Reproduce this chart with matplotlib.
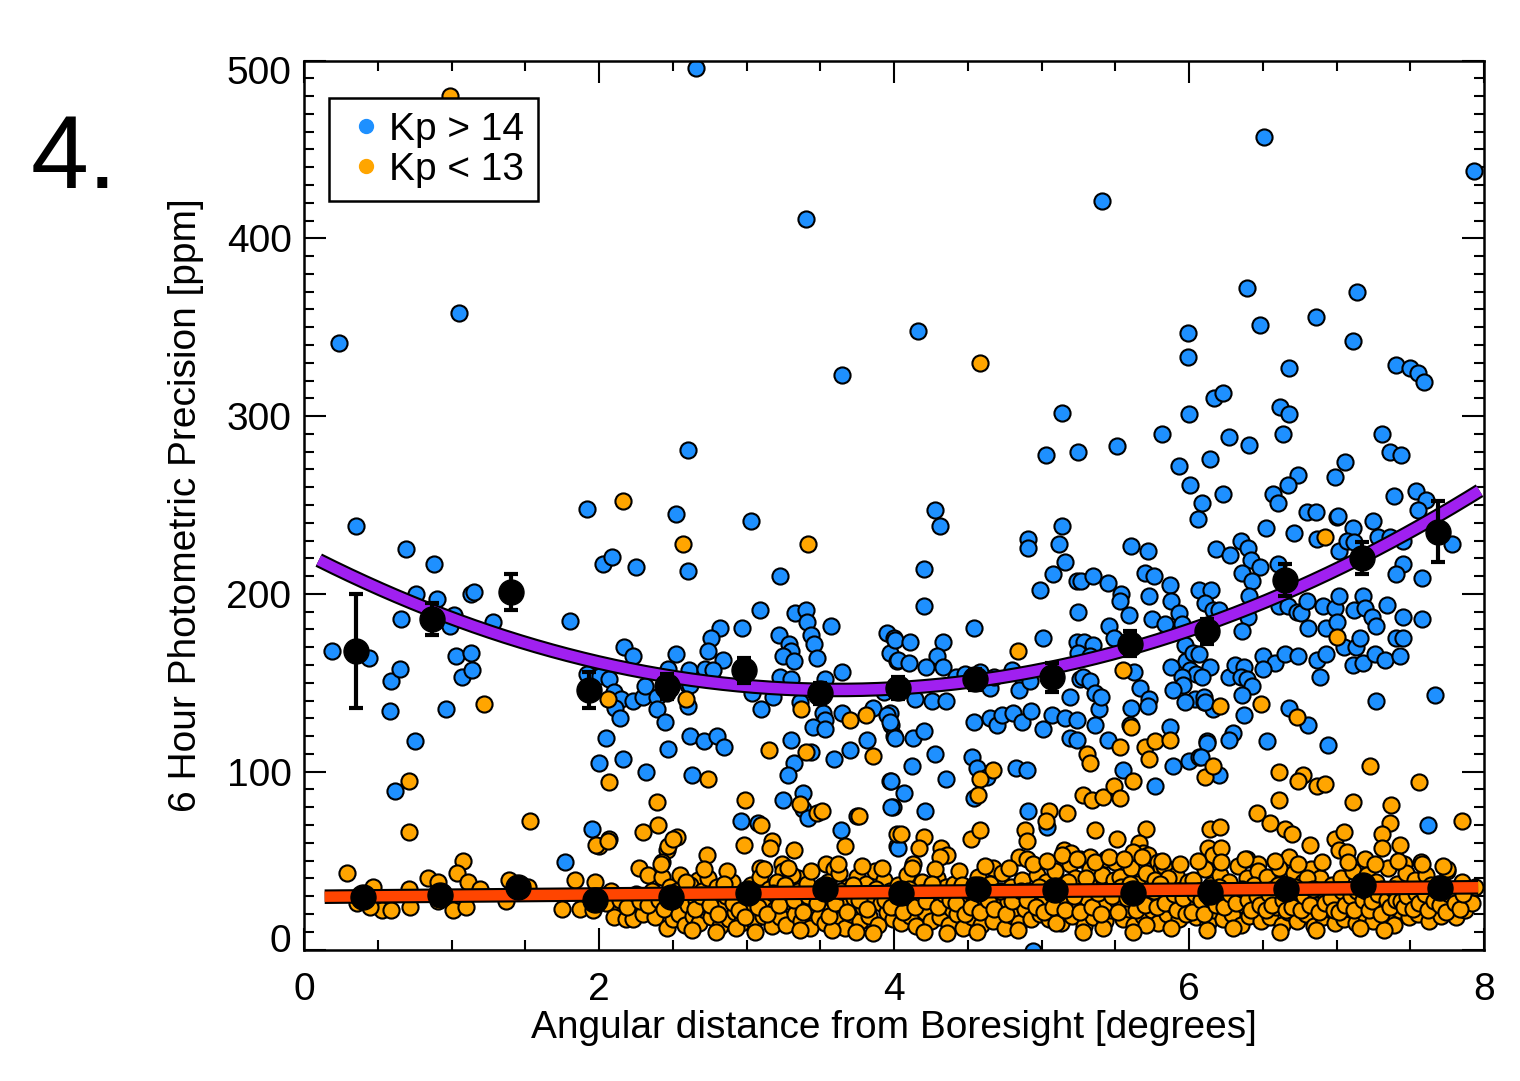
import numpy as np
import matplotlib
matplotlib.use("Agg")
import matplotlib.pyplot as plt
from matplotlib.lines import Line2D
from matplotlib.transforms import ScaledTranslation
import matplotlib.patheffects as pe

plt.rcParams['font.family'] = ['Liberation Sans', 'DejaVu Sans']

# ---------------- data ----------------
blue_points = [
    (0.19,168),(0.24,341),(0.35,238),(0.44,164),(0.58,134),(0.59,151),(0.62,89),(0.65,158),(0.66,186),
    (0.69,225),(0.75,117),(0.76,200),(0.88,217),(0.90,197),(0.96,135),(1.02,188),(0.99,182),(1.05,358),
    (1.03,165),(1.07,153),(1.13,167),(1.14,157),(1.13,200),(1.15,201),(1.28,184),(1.80,185),(1.92,248),
    (1.95,68),(1.77,49),
    (2.03,217),(2.09,221),(2.25,215),(2.52,245),(2.60,213),(3.03,241),(3.23,210),(3.09,191),(3.33,189),
    (3.40,191),(3.41,184),(3.57,182),(2.82,181),(2.97,181),(2.76,175),(2.74,168),(3.22,177),(3.29,172),
    (3.30,168),(3.44,177),(3.46,172),(2.17,170),(2.23,165),(2.52,166),(2.84,163),(3.25,165),(3.32,162),
    (3.48,164),(3.65,156),(3.95,178),(4.00,175),(3.97,167),(4.02,162),(2.47,158),(2.61,157),(2.72,158),
    (2.77,157),(1.92,155),(2.01,154),(2.07,152),(3.23,153),(3.30,152),(3.53,152),(2.10,145),(2.15,141),
    (2.23,140),(2.30,142),(2.31,148),(2.11,136),(2.14,130),(2.39,142),(2.39,135),(2.45,128),(2.46,144),
    (2.60,149),(2.62,149),(2.60,137),(3.04,144),(3.18,142),(3.10,135),(3.36,139),(3.52,133),(3.53,129),
    (3.45,125),(3.53,124),(3.65,133),(3.86,136),(3.97,133),(3.98,126),(4.00,120),(2.05,119),(2.47,113),
    (2.62,120),(2.71,117),(2.80,120),(2.85,114),(3.30,118),(2.00,105),(2.16,107),(2.32,100),(2.63,98),
    (3.32,105),(3.28,98),(3.44,111),(3.59,107),(3.70,112),(3.82,118),(3.97,95),(3.99,80),(3.38,88),
    (3.25,84),(3.38,79),(3.42,74),(2.96,72),(3.08,71),(3.64,67),(3.75,75),(4.02,58),
    (2.60,281),(2.66,496),(3.40,411),(3.65,323),(4.16,348),
    (5.14,302),(5.03,278),(5.25,280),(5.51,283),(6.00,301),(5.82,290),(5.99,347),(5.99,333),(5.93,272),
    (6.14,276),(6.01,261),(6.09,251),(6.06,242),(4.28,247),(4.31,238),(5.14,238),(4.91,231),(4.91,226),
    (5.12,228),(5.16,218),(5.08,211),(5.61,227),(5.72,224),(6.18,225),(4.20,214),(4.99,202),(4.20,193),
    (4.54,181),(5.24,207),(5.27,207),(5.35,210),(5.45,206),(5.54,200),(5.53,196),(5.59,188),(5.25,190),
    (5.70,212),(5.76,210),(5.73,199),(5.75,186),(5.87,205),(5.88,196),(5.93,189),(5.95,183),(5.84,183),
    (6.07,202),(6.15,202),(6.11,195),(6.16,191),(4.01,174),(4.11,173),(4.03,163),(4.10,161),(4.33,173),
    (4.29,165),(4.33,159),(4.22,159),(4.14,141),(4.26,140),(4.35,140),(5.01,175),(5.24,173),(5.29,173),
    (5.35,171),(5.25,167),(5.33,165),(5.46,182),(5.49,175),(5.63,156),(5.67,147),(5.73,141),(5.72,137),
    (5.26,152),(5.28,153),(5.33,151),(5.36,144),(5.39,135),(5.40,142),(5.19,142),(5.97,171),(5.98,162),
    (6.01,157),(6.03,167),(6.07,166),(6.05,155),(6.14,159),(5.88,159),(5.95,153),(5.96,149),(5.89,146),
    (6.04,141),(6.10,139),(5.97,139),(6.16,135),(3.93,145),(3.95,132),(3.97,128),(4.01,119),(4.13,119),
    (4.20,123),(4.28,110),(4.12,103),(4.35,96),(3.98,95),(4.07,88),(3.98,80),(4.21,78),(4.54,128),
    (4.65,130),(4.70,126),(4.73,132),(4.81,133),(4.87,128),(4.93,134),(5.01,124),(5.07,132),(5.16,130),
    (5.24,129),(5.19,119),(5.24,118),(5.36,126),(5.45,118),(5.60,126),(5.61,136),(5.87,125),(6.12,117),
    (4.53,108),(4.56,102),(4.63,97),(4.54,85),(4.83,102),(4.90,101),(4.91,78),(5.04,69),(5.55,101),
    (5.77,92),(5.89,103),(6.00,106),(6.07,108),(4.03,57),(4.80,157),(4.87,153),(4.85,146),(4.92,151),
    (4.65,147),(4.68,153),(4.58,156),(4.42,153),(4.48,155),(5.41,421),(4.94,-1),
    (6.39,372),(7.14,370),(6.48,351),(6.86,356),(7.11,342),(6.68,327),(7.40,329),(7.50,327),(7.55,324),
    (7.59,319),(6.17,310),(6.23,313),(6.62,305),(6.68,301),(6.64,290),(6.27,288),(6.41,284),(7.31,290),
    (7.36,280),(7.44,278),(7.06,274),(6.99,266),(6.74,267),(6.67,261),(6.23,256),(6.57,256),(6.60,251),
    (7.39,255),(7.54,258),(7.61,253),(7.55,247),(6.80,246),(6.86,246),(7.00,243),(7.01,244),(7.25,241),
    (7.11,237),(6.52,237),(6.71,234),(6.87,231),(7.02,224),(7.07,230),(7.12,229),(7.28,232),(7.36,232),
    (7.45,230),(7.45,217),(7.40,211),(7.58,209),(7.78,228),(6.28,222),(6.35,230),(6.40,226),(6.42,219),
    (6.48,215),(6.36,212),(6.43,207),(6.60,217),(6.20,191),(6.41,199),(6.40,187),(6.36,179),(6.61,193),
    (6.67,193),(6.73,190),(6.76,189),(6.80,196),(6.81,181),(6.91,193),(6.99,192),(6.93,181),(7.00,184),
    (7.02,199),(7.18,199),(7.12,191),(7.19,192),(7.24,187),(7.27,182),(7.34,194),(7.45,187),(7.58,186),
    (7.05,170),(7.13,170),(7.16,175),(7.11,160),(7.18,161),(7.26,166),(7.33,163),(7.43,165),(7.40,175),
    (7.45,175),(6.87,163),(6.93,166),(6.89,153),(6.50,165),(6.58,161),(6.65,166),(6.74,165),(6.50,158),
    (6.27,153),(6.31,160),(6.37,159),(6.35,153),(6.39,152),(6.43,148),(6.36,143),(6.09,153),(6.10,142),
    (6.11,139),(6.37,132),(6.30,122),(6.27,118),(6.12,116),(6.08,108),(6.53,117),(6.68,136),(6.81,126),
    (6.94,115),(7.27,140),(7.67,143),(6.20,98),(7.62,70),(6.51,457),(7.93,438),
]

orange_sparse = [
    (0.99,480),(4.58,330),(3.42,228),(2.16,252),(2.57,228),(1.22,138),(0.71,95),(0.71,66),(0.29,43),
    (1.08,50),(1.53,72),(2.07,94),(2.06,141),(2.59,141),(3.70,129),(3.81,132),(3.86,109),(3.37,135),
    (3.15,112),(3.40,111),(2.74,96),(2.39,83),(2.99,84),(3.36,82),(3.48,77),(3.51,78),(3.76,75),
    (3.10,70),(2.30,66),(2.40,70),(2.07,62),(2.00,58),(2.53,63),(2.46,56),(2.73,53),(2.98,59),(3.17,61),
    (3.16,57),(3.32,56),(3.67,58),(4.02,65),(2.43,49),(2.27,46),(2.33,42),(2.43,41),(3.24,48),(3.25,44),
    (3.09,46),(3.35,40),(3.54,48),(3.59,45),(1.84,39),(1.97,38),(2.67,39),
    (1.04,43),(1.11,38),(0.84,40),(0.91,38),(0.71,34),(0.72,24),(0.47,35),(0.53,22),(0.59,22),(0.36,26),
    (0.45,24),(0.91,27),(1.01,22),(1.10,24),(1.19,34),(1.39,39),(1.37,27),(1.52,35),(1.75,23),(1.87,23),
    (1.96,22),(2.42,48),(2.47,58),(2.50,62),(1.98,59),(2.06,61),(2.12,24),(2.22,21),(2.10,18),(2.18,17),
    (2.23,17),(2.30,20),(2.38,18),(2.46,12),(2.50,17),(2.59,20),(2.64,19),
    (4.84,168),(5.55,157),(5.61,125),(4.67,101),(4.58,96),(4.57,87),(5.31,110),(5.33,105),(5.53,114),
    (5.70,114),(5.73,107),(5.77,117),(5.87,118),(5.62,95),(5.28,87),(5.34,84),(5.42,86),(5.49,92),
    (5.53,85),(6.11,97),(5.05,78),(5.17,77),(5.03,72),(5.36,67),(5.71,68),(4.05,65),(4.20,63),(4.17,57),
    (4.52,62),(4.58,67),(4.89,67),(4.90,61),(5.51,62),(5.66,60),(5.69,54),(5.72,53),(5.62,55),(4.32,57),
    (4.36,53),(4.31,52),(4.13,48),(4.67,46),(4.85,52),(4.90,51),(5.15,56),(5.20,54),(5.26,51),(5.33,52),
    (5.44,51),(5.50,49),(5.79,49),(5.81,46),(6.14,68),(6.13,57),(6.16,53),
    (6.92,232),(7.00,176),(6.73,131),(6.21,137),(6.49,138),(6.16,103),(6.61,100),(6.77,98),(6.74,95),
    (6.87,92),(6.92,93),(7.23,103),(7.56,94),(6.61,84),(6.46,77),(6.55,71),(6.65,68),(6.70,65),(7.11,83),
    (7.37,81),(7.36,71),(7.31,65),(7.31,57),(7.43,59),(7.85,72),(6.21,69),(6.22,57),(6.82,59),(6.99,62),
    (7.05,66),(7.02,56),(7.07,55),(7.19,51),(7.46,48),(7.57,49),(7.75,44),(6.39,51),(6.47,48),(6.68,52),
]

orange_band = [
    (2.02,30),(2.05,26),(2.08,33),(2.14,28),(2.19,24),(2.25,31),(2.28,27),(2.33,25),(2.36,33),(2.41,28),
    (2.44,23),(2.48,35),(2.52,26),
    (2.54,20),(2.56,31),(2.58,14),(2.60,25),(2.62,36),(2.64,19),(2.66,28),(2.68,15),(2.70,33),(2.72,22),
    (2.74,40),(2.76,18),(2.78,27),(2.80,35),(2.82,13),(2.84,24),(2.86,30),(2.88,17),(2.90,38),(2.92,21),
    (2.94,28),(2.96,15),(2.98,33),(2.55,42),(2.71,45),(2.87,44),(2.63,11),(2.79,10),(2.93,12),
    (3.01,22),(3.03,36),(3.05,16),(3.07,29),(3.09,41),(3.11,19),(3.13,26),(3.15,34),(3.17,13),(3.19,23),
    (3.21,38),(3.23,18),(3.25,30),(3.27,14),(3.29,27),(3.31,42),(3.33,20),(3.35,33),(3.37,16),(3.39,25),
    (3.41,37),(3.43,12),(3.45,22),(3.47,31),(3.49,18),(3.12,45),(3.28,46),(3.44,44),(3.06,10),(3.36,11),
    (3.51,27),(3.53,15),(3.55,38),(3.57,22),(3.59,31),(3.61,17),(3.63,43),(3.65,25),(3.67,12),(3.69,35),
    (3.71,20),(3.73,29),(3.75,41),(3.77,16),(3.79,24),(3.81,37),(3.83,19),(3.85,30),(3.87,44),(3.89,14),
    (3.91,26),(3.93,39),(3.95,21),(3.97,33),(3.99,17),(3.62,48),(3.78,47),(3.92,46),(3.58,11),(3.74,10),
    (3.86,9),
    (4.01,24),(4.03,36),(4.05,15),(4.07,28),(4.09,42),(4.11,19),(4.13,31),(4.15,13),(4.17,26),(4.19,38),
    (4.21,21),(4.23,33),(4.25,16),(4.27,29),(4.29,40),(4.31,18),(4.33,25),(4.35,35),(4.37,14),(4.39,23),
    (4.41,37),(4.43,20),(4.45,30),(4.47,12),(4.49,27),(4.12,46),(4.28,45),(4.44,44),(4.20,10),(4.36,9),
    (4.51,33),(4.53,18),(4.55,26),(4.57,41),(4.59,14),(4.61,29),(4.63,22),(4.65,37),(4.67,16),(4.69,31),
    (4.71,24),(4.73,43),(4.75,12),(4.77,27),(4.79,35),(4.81,19),(4.83,30),(4.85,15),(4.87,39),(4.89,23),
    (4.91,33),(4.93,17),(4.95,28),(4.97,42),(4.99,20),(4.62,47),(4.78,46),(4.94,48),(4.56,10),(4.84,11),
    (5.01,26),(5.03,38),(5.05,17),(5.07,31),(5.09,44),(5.11,21),(5.13,15),(5.15,35),(5.17,27),(5.19,48),
    (5.21,19),(5.23,40),(5.25,24),(5.27,33),(5.29,13),(5.31,29),(5.33,45),(5.35,18),(5.37,37),(5.39,25),
    (5.41,42),(5.43,16),(5.45,31),(5.47,22),(5.49,39),(5.04,50),(5.14,53),(5.24,51),(5.36,49),(5.46,52),
    (5.10,15),(5.28,10),(5.42,12),(5.12,28),(5.32,36),(5.44,26),
    (5.51,28),(5.53,41),(5.55,17),(5.57,33),(5.59,23),(5.61,46),(5.63,14),(5.65,37),(5.67,26),(5.69,19),
    (5.71,43),(5.73,31),(5.75,22),(5.77,39),(5.79,15),(5.81,29),(5.83,47),(5.85,20),(5.87,35),(5.89,25),
    (5.91,42),(5.93,17),(5.95,32),(5.97,24),(5.99,38),(5.56,51),(5.68,52),(5.82,50),(5.94,48),(5.71,14),
    (5.62,10),(5.88,12),(5.54,35),(5.74,27),(5.86,40),
    (6.01,27),(6.03,39),(6.05,18),(6.07,33),(6.09,24),(6.11,45),(6.13,15),(6.15,36),(6.17,22),(6.19,30),
    (6.21,42),(6.23,17),(6.25,28),(6.27,38),(6.29,20),(6.31,33),(6.33,47),(6.35,14),(6.37,25),(6.39,40),
    (6.41,19),(6.43,31),(6.45,23),(6.47,44),(6.49,16),(6.06,50),(6.22,49),(6.38,51),(6.12,11),(6.30,12),
    (6.44,36),(6.26,26),
    (6.51,29),(6.53,41),(6.55,18),(6.57,34),(6.59,24),(6.61,46),(6.63,14),(6.65,37),(6.67,21),(6.69,30),
    (6.71,43),(6.73,16),(6.75,27),(6.77,38),(6.79,20),(6.81,32),(6.83,45),(6.85,13),(6.87,25),(6.89,40),
    (6.91,18),(6.93,30),(6.95,23),(6.97,36),(6.99,15),(6.58,50),(6.74,48),(6.90,49),(6.62,10),(6.86,11),
    (6.68,27),(6.80,40),
    (7.01,28),(7.03,40),(7.05,17),(7.07,33),(7.09,23),(7.11,44),(7.13,15),(7.15,36),(7.17,26),(7.19,20),
    (7.21,42),(7.23,30),(7.25,16),(7.27,38),(7.29,24),(7.31,34),(7.33,19),(7.35,46),(7.37,27),(7.39,14),
    (7.41,37),(7.43,22),(7.45,31),(7.47,43),(7.49,18),(7.08,49),(7.26,48),(7.42,50),(7.16,12),(7.32,11),
    (7.51,29),(7.53,39),(7.55,20),(7.57,33),(7.59,25),(7.61,42),(7.63,16),(7.65,30),(7.67,23),(7.69,37),
    (7.71,19),(7.73,28),(7.75,45),(7.77,24),(7.79,33),(7.81,18),(7.83,27),(7.85,38),(7.87,22),(7.89,30),
    (7.58,48),(7.72,47),(7.92,26),(7.94,35),
    # second layer filling the dense band
    (2.53,33),(2.59,38),(2.65,23),(2.69,30),(2.75,25),(2.81,20),(2.85,37),(2.91,26),(2.95,22),(2.99,18),
    (3.02,31),(3.08,24),(3.14,20),(3.18,32),(3.22,25),(3.26,36),(3.32,28),(3.38,21),(3.42,30),(3.48,26),
    (3.52,35),(3.56,19),(3.60,26),(3.64,33),(3.68,21),(3.72,36),(3.76,28),(3.82,23),(3.88,34),(3.94,28),
    (3.98,24),(4.02,30),(4.06,21),(4.10,34),(4.14,24),(4.18,32),(4.22,27),(4.26,37),(4.30,24),(4.34,31),
    (4.38,28),(4.42,26),(4.46,36),(4.48,20),(4.52,24),(4.54,36),(4.58,21),(4.60,34),(4.64,28),(4.68,23),
    (4.72,33),(4.76,20),(4.80,27),(4.86,33),(4.90,28),(4.96,24),(4.98,35),(5.02,21),(5.06,34),(5.08,24),
    (5.16,22),(5.18,38),(5.22,30),(5.26,21),(5.30,40),(5.34,24),(5.38,32),(5.40,20),(5.48,30),(5.52,21),
    (5.58,29),(5.60,37),(5.64,22),(5.66,31),(5.70,25),(5.76,33),(5.78,24),(5.80,37),(5.84,26),(5.90,31),
    (5.92,22),(5.96,29),(5.98,20),(6.02,21),(6.04,31),(6.08,28),(6.10,20),(6.14,29),(6.18,25),(6.20,35),
    (6.24,24),(6.28,31),(6.32,26),(6.36,34),(6.40,28),(6.42,22),(6.46,30),(6.48,25),(6.52,22),(6.54,31),
    (6.56,25),(6.60,36),(6.64,28),(6.66,22),(6.70,24),(6.72,35),(6.76,22),(6.78,30),(6.82,25),(6.84,34),
    (6.88,21),(6.92,26),(6.96,29),(6.98,22),(7.02,21),(7.04,33),(7.06,25),(7.10,30),(7.12,22),(7.14,33),
    (7.18,28),(7.20,33),(7.22,22),(7.24,27),(7.28,31),(7.30,20),(7.34,28),(7.36,24),(7.38,34),(7.40,28),
    (7.44,27),(7.46,24),(7.48,30),(7.52,23),(7.54,32),(7.56,26),(7.60,31),(7.62,22),(7.64,36),(7.66,27),
    (7.70,25),(7.74,21),(7.76,31),(7.80,26),(7.84,23),(7.86,31),
]

blue_bin_x = [0.35, 0.87, 1.40, 1.93, 2.46, 2.98, 3.50, 4.03, 4.55, 5.07, 5.60, 6.12, 6.65, 7.17, 7.69]
blue_bin_y = [168, 186, 201, 146, 148, 157, 144, 147, 152, 153, 172, 179, 208, 220, 235]
blue_bin_err = [32, 9, 10, 10, 7, 7, 6, 6, 6, 8, 7, 7, 9, 9, 17]

orange_bin_x = [0.40, 0.92, 1.45, 1.97, 2.49, 3.01, 3.53, 4.05, 4.57, 5.09, 5.62, 6.14, 6.66, 7.18, 7.70]
orange_bin_y = [29.5, 30.5, 35, 28, 29.5, 32, 34, 32, 34, 33.5, 32, 32.5, 34, 36, 34.5]
orange_bin_err = [4, 3, 3, 3, 2, 2, 2, 2, 2, 2, 2, 2, 2, 2, 3]

blue_fit_coeffs = [5.91, -42.73, 223.2]     # quadratic fit to the faint sample
blue_fit_range = [0.10, 7.97]
orange_fit_coeffs = [0.68, 29.6]            # linear fit to the bright sample
orange_fit_range = [0.14, 7.96]

legend_labels = ['Kp > 14', 'Kp < 13']
x_label = 'Angular distance from Boresight [degrees]'
y_label = '6 Hour Photometric Precision [ppm]'
panel_label = '4.'

# ---------------- colours ----------------
BLUE = '#1E90FF'
ORANGE = '#FFA500'
PURPLE = '#A020F0'
RED = '#FF4500'

FS = 28

W, H = 1520, 1081
fig = plt.figure(figsize=(W / 100, H / 100), dpi=100)
L, R, T, B = 304, 1484, 60.5, 949.5
ax = fig.add_axes([L / W, 1 - B / H, (R - L) / W, (B - T) / H])

bx, by = zip(*blue_points)
ox, oy = zip(*(orange_sparse + orange_band))

ax.scatter(bx, by, s=135, c=BLUE, edgecolors='black', linewidths=1.5, zorder=2)
ax.scatter(ox, oy, s=135, c=ORANGE, edgecolors='black', linewidths=1.5, zorder=2.1)

xf = np.linspace(blue_fit_range[0], blue_fit_range[1], 300)
ax.plot(xf, np.polyval(blue_fit_coeffs, xf), color=PURPLE, lw=7.5, zorder=3,
        solid_capstyle='butt',
        path_effects=[pe.Stroke(linewidth=10.5, foreground='black'), pe.Normal()])
xo = np.linspace(orange_fit_range[0], orange_fit_range[1], 50)
ax.plot(xo, np.polyval(orange_fit_coeffs, xo), color=RED, lw=7.5, zorder=3,
        solid_capstyle='butt',
        path_effects=[pe.Stroke(linewidth=10.5, foreground='black'), pe.Normal()])

for xs, ys, es in [(blue_bin_x, blue_bin_y, blue_bin_err), (orange_bin_x, orange_bin_y, orange_bin_err)]:
    ax.errorbar(xs, ys, yerr=es, fmt='o', color='black', ms=18, elinewidth=3,
                capsize=5, capthick=3, zorder=5)

ax.set_xlim(0, 8)
ax.set_ylim(0, 500)
ax.set_xticks([0, 2, 4, 6, 8])
ax.set_xticks(np.arange(0, 8.01, 0.5), minor=True)
ax.set_yticks([0, 100, 200, 300, 400, 500])
ax.set_yticks(np.arange(0, 501, 10), minor=True)
ax.tick_params(which='both', direction='in', top=True, right=True, width=1.5, color='black')
ax.tick_params(which='major', length=16)
ax.tick_params(which='minor', length=7)
ax.tick_params(axis='y', which='major', pad=9, labelsize=FS)
ax.tick_params(axis='x', which='major', pad=16, labelsize=FS)
for sp in ax.spines.values():
    sp.set_linewidth(1.8)

fig.text(894 / W, 1 - 1028 / H, x_label, ha='center', va='center', fontsize=FS)
fig.text(186 / W, 1 - 505 / H, y_label, ha='center', va='center', rotation=90, fontsize=FS)
fig.text(31 / W, 1 - 188 / H, panel_label, ha='left', va='baseline', fontsize=75)

handles = [Line2D([], [], marker='o', ls='none', color=BLUE, markersize=10),
           Line2D([], [], marker='o', ls='none', color=ORANGE, markersize=10)]
leg = ax.legend(handles, legend_labels, loc='upper left',
                bbox_to_anchor=((329 - L) / (R - L), (B - 98) / (B - T)),
                borderaxespad=0, frameon=True, fancybox=False, edgecolor='black',
                framealpha=1, fontsize=FS, handlelength=1.2, handletextpad=0.0,
                borderpad=0.35, labelspacing=0.1)
leg.get_frame().set_linewidth(1.8)
leg.set_zorder(10)

# the end labels of the y axis sit slightly inside the axis range in the reference
fig.canvas.draw()
yticks = ax.yaxis.get_major_ticks()
yticks[0].label1.set_transform(yticks[0].label1.get_transform()
                               + ScaledTranslation(0, 12 / 100, fig.dpi_scale_trans))
yticks[-1].label1.set_transform(yticks[-1].label1.get_transform()
                                + ScaledTranslation(0, -10 / 100, fig.dpi_scale_trans))

fig.savefig('out.png', dpi=100)
